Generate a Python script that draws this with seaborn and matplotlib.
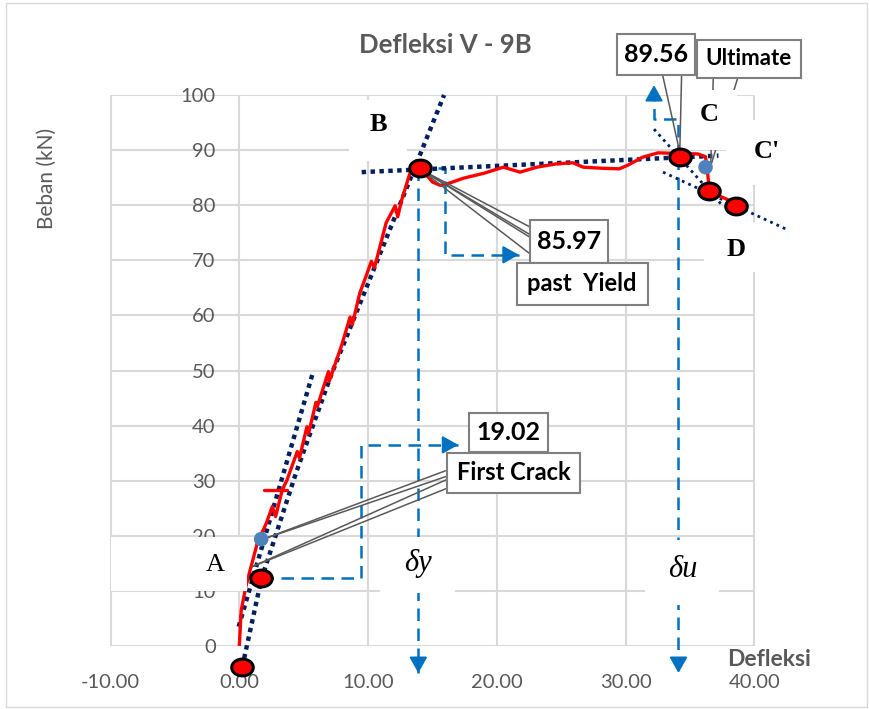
import matplotlib
matplotlib.use("Agg")
import numpy as np
import matplotlib.pyplot as plt
import seaborn as sns
from matplotlib.patches import Rectangle
from matplotlib.path import Path

# ---- data ----
# load - deflection curve (red)
defl = [0.0, 0.15, 0.5, 0.9, 1.4, 2.1, 2.56, 2.82, 3.33, 3.7, 4.5, 4.67,
        5.25, 5.38, 5.95, 6.05, 6.92, 6.97, 7.95, 8.6, 8.77, 9.36, 9.9, 10.25,
        10.5, 11.4, 12.1, 12.3, 12.6, 13.3, 14.0, 14.5, 15.0, 15.6, 16.3, 17.4,
        19.0, 20.5, 21.8, 23.1, 24.6, 25.9, 26.7, 28.2, 29.5, 30.2, 31.3, 32.5,
        34.2, 35.6, 36.2, 36.4, 36.5, 38.5, 38.7]
load = [0.0, 6.5, 10.7, 14.3, 18.7, 22.3, 25.3, 23.5, 28.3, 30.1, 35.3, 34.1,
        39.8, 38.6, 44.2, 43.4, 49.8, 48.0, 54.6, 59.7, 58.3, 64.1, 67.5, 69.8,
        68.7, 76.8, 79.9, 77.9, 80.9, 86.2, 86.8, 85.6, 84.2, 83.6, 84.0, 84.9,
        85.8, 86.9, 86.0, 86.9, 87.5, 87.7, 86.9, 86.7, 86.6, 87.3, 88.7, 89.5,
        89.4, 89.3, 88.8, 85.0, 82.5, 80.4, 80.0]
# short red bar near 28 kN
bar_x = [1.9, 3.7]
bar_y = [28.3, 28.3]

# red key points
key_x = [0.23, 1.7, 14.0, 34.2, 36.5, 38.6]
key_y = [-3.8, 12.3, 86.8, 88.7, 82.6, 79.9]
# first crack / ultimate points (blue)
blue_x = [1.7, 36.2]
blue_y = [19.4, 86.9]

# dotted helper lines
init_x = [-0.05, 5.7]
init_y = [3.5, 49.5]
stiff_x = [0.23, 1.7, 4.4, 7.1, 15.9]
stiff_y = [-3.8, 12.0, 31.4, 49.0, 100.0]
plateau_x = [9.5, 37.2]
plateau_y = [86.0, 89.0]
drop1_x = [32.2, 37.6]
drop1_y = [93.8, 79.7]
drop2_x = [32.9, 42.6]
drop2_y = [86.0, 75.5]

# blue dashed guide paths (last point gets an arrow head)
guide1_x = [1.7, 9.45, 9.45, 17.0]
guide1_y = [12.3, 12.3, 36.5, 36.5]
guide2_x = [13.9, 13.9]
guide2_y = [86.8, -4.9]
guide3_x = [13.9, 16.0, 16.0, 21.7]
guide3_y = [86.8, 86.8, 71.0, 71.0]
guide4_x = [34.1, 34.1]
guide4_y = [88.7, -4.9]
guide5_x = [34.1, 34.1, 32.2, 32.2]
guide5_y = [88.7, 95.6, 95.6, 101.8]

x_ticks = [-10, 0, 10, 20, 30, 40]
y_ticks = [0, 10, 20, 30, 40, 50, 60, 70, 80, 90, 100]

RED = "#FF0000"
NAVY = "#002060"
BLUE = "#0070C0"
GRAY_TXT = "#595959"
GRID = "#D9D9D9"
CALLOUT = "#595959"

sns.set_theme(style="white")
plt.rcParams["font.family"] = ["Lato", "DejaVu Sans"]

fig = plt.figure(figsize=(8.7, 7.09), dpi=100)
ax = fig.add_axes([110 / 870, 1 - 646 / 709, 645 / 870, 551 / 709])
ax.set_xlim(-10.04, 40.04)
ax.set_ylim(0, 100)

for s in ax.spines.values():
    s.set_visible(False)
ax.spines["left"].set_position(("data", 0))
ax.set_xticks(x_ticks)
ax.set_yticks(y_ticks)
ax.set_xticklabels([f"{v:.2f}" for v in x_ticks])
ax.set_yticklabels([str(v) for v in y_ticks])
ax.tick_params(axis="both", length=0, labelsize=14.5, labelcolor=GRAY_TXT)
ax.tick_params(axis="y", pad=17)
ax.tick_params(axis="x", pad=20)
ax.grid(True, color=GRID, lw=1.5)
ax.set_axisbelow(True)


def dashed_path(xs, ys):
    ax.plot(xs, ys, color=BLUE, lw=1.8, ls=(0, (5, 3)), zorder=3, clip_on=False)
    dx = xs[-1] - xs[-2]
    dy = ys[-1] - ys[-2]
    n = np.hypot(dx / 13.0, dy / 5.5)
    back = (xs[-1] - dx / n * 0.9 / 13.0, ys[-1] - dy / n * 0.9 / 5.5)
    ax.annotate("", xy=(xs[-1], ys[-1]), xytext=back, annotation_clip=False,
                arrowprops=dict(arrowstyle="-|>,head_length=0.8,head_width=0.45",
                                color=BLUE, lw=1.5, mutation_scale=12,
                                shrinkA=0, shrinkB=0), zorder=3)


for gx, gy in [(guide1_x, guide1_y), (guide2_x, guide2_y), (guide3_x, guide3_y),
               (guide4_x, guide4_y), (guide5_x, guide5_y)]:
    dashed_path(gx, gy)

# dotted trend lines
ax.plot(init_x, init_y, color=NAVY, lw=3.2, ls=(0, (1, 1)), zorder=3, clip_on=False)
ax.plot(stiff_x, stiff_y, color=NAVY, lw=3.2, ls=(0, (1, 1)), zorder=3, clip_on=False)
ax.plot(plateau_x, plateau_y, color=NAVY, lw=3.2, ls=(0, (1, 1)), zorder=3, clip_on=False)
ax.plot(drop1_x, drop1_y, color=NAVY, lw=2, ls=(0, (1, 1.5)), zorder=3, clip_on=False)
ax.plot(drop2_x, drop2_y, color=NAVY, lw=2, ls=(0, (1, 1.5)), zorder=3, clip_on=False)

# red load curve
sns.lineplot(x=defl, y=load, sort=False, estimator=None, color=RED, lw=2.4, ax=ax, zorder=4)
ax.plot(bar_x, bar_y, color=RED, lw=2.4, zorder=4)

# callout pointer lines
pointers = [
    ((16.0, 31.8), (1.75, 19.3)), ((16.1, 30.8), (1.75, 19.3)),
    ((16.1, 30.2), (1.0, 14.4)), ((16.1, 28.6), (1.0, 14.4)),
    ((22.6, 76.0), (14.0, 86.6)), ((22.9, 74.2), (14.0, 86.6)),
    ((23.5, 69.5), (14.0, 86.6)), ((25.8, 69.5), (14.0, 86.6)),
    ((32.87, 103.6), (34.2, 89.6)), ((34.34, 103.6), (34.2, 89.6)),
    ((36.8, 103.1), (36.6, 87.1)), ((38.7, 103.1), (36.6, 87.1)),
]
for (x0, y0), (x1, y1) in pointers:
    ax.plot([x0, x1], [y0, y1], color=CALLOUT, lw=1.1, zorder=4.5, clip_on=False)

# markers
t = np.linspace(0, 2 * np.pi, 60)
ellipse = Path(np.column_stack([np.cos(t), 0.78 * np.sin(t)]), closed=True)
sns.scatterplot(x=key_x, y=key_y, marker=ellipse, s=240, color=RED,
                edgecolor="black", linewidth=2.2, ax=ax, zorder=6, clip_on=False)
sns.scatterplot(x=blue_x, y=blue_y, s=110, color="#4F81BD", edgecolor="none",
                ax=ax, zorder=5.5, clip_on=False)

# white label boxes (no border)
serif_b = dict(family="Liberation Serif", weight="bold", size=19)
serif_r = dict(family="Liberation Serif", size=19)
serif_i = dict(family="Liberation Serif", style="italic", size=22)
plain_boxes = [
    (8.53, 88.0, 4.5, 11.1, "B", serif_b, (10.78, 94.6)),
    (-10.0, 10.0, 10.62, 9.8, "A", serif_r, (-1.86, 14.7)),
    (10.93, 9.6, 5.8, 10.2, "δy", serif_i, (13.88, 15.0)),
    (31.47, 7.4, 5.8, 11.8, "δu", serif_i, (34.4, 13.8)),
    (34.34, 90.0, 4.3, 10.9, "C", serif_b, (36.5, 96.4)),
    (37.8, 83.7, 6.1, 11.8, "C'", serif_b, (41.0, 89.7)),
    (36.1, 67.9, 5.1, 9.1, "D", serif_b, (38.6, 71.9)),
]
for bx, by, bw, bh, label, fnt, (tx, ty) in plain_boxes:
    ax.add_patch(Rectangle((bx, by), bw, bh, fc="white", ec="none", zorder=5, clip_on=False))
    ax.text(tx, ty, label, ha="center", va="center", color="black", zorder=5.2,
            clip_on=False, **fnt)

# bordered callout boxes
callouts = [
    (17.83, 35.2, 6.12, 7.1, "19.02", 18),
    (16.12, 27.8, 10.31, 7.2, "First Crack", 17),
    (22.56, 69.5, 6.04, 7.8, "85.97", 18),
    (21.55, 61.9, 10.15, 7.6, "past  Yield", 17),
    (29.3, 103.6, 6.05, 7.5, "89.56", 18),
    (35.5, 103.1, 8.1, 6.9, "Ultimate", 16),
]
for bx, by, bw, bh, label, fs in callouts:
    ax.add_patch(Rectangle((bx, by), bw, bh, fc="white", ec="#7F7F7F", lw=1.5,
                           zorder=5, clip_on=False))
    ax.text(bx + bw / 2, by + bh / 2, label, ha="center", va="center",
            fontsize=fs, weight="bold", color="black", zorder=5.2, clip_on=False)

# titles
fig.text(445 / 870, 1 - 45 / 709, "Defleksi V - 9B", ha="center", va="center",
         fontsize=18.5, weight="bold", color=GRAY_TXT)
fig.text(47 / 870, 1 - 178 / 709, "Beban (kN)", ha="center", va="center",
         rotation=90, fontsize=15, color=GRAY_TXT)
fig.text(727 / 870, 1 - 660 / 709, "Defleksi", ha="left", va="center",
         fontsize=16.5, weight="bold", color=GRAY_TXT)

fig.patches.append(Rectangle((0.007, 0.003), 0.989, 0.993, transform=fig.transFigure,
                             fill=False, ec=GRID, lw=1))

fig.savefig("out.png", dpi=100, facecolor="white")
